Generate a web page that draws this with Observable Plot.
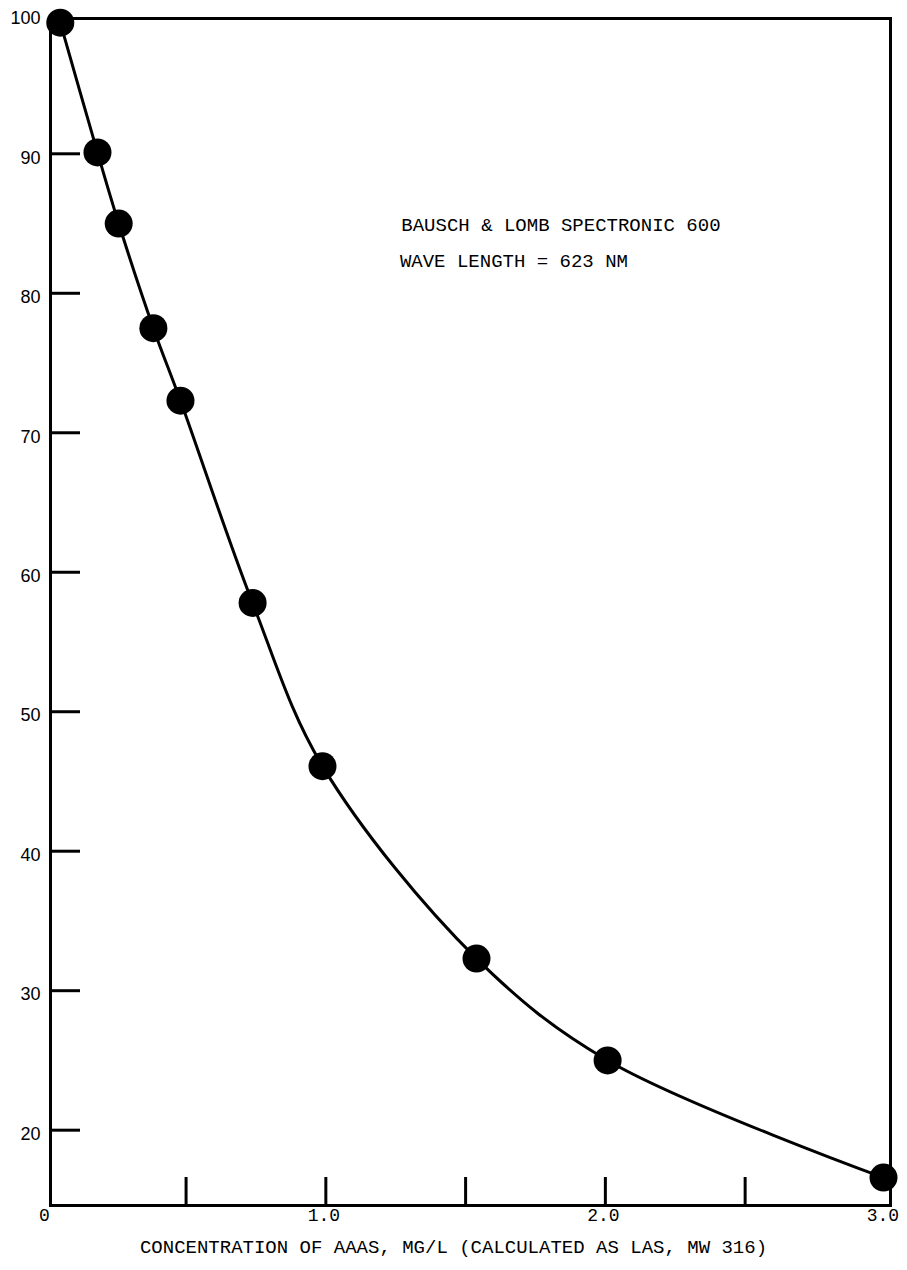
<!DOCTYPE html>
<html>
<head>
<meta charset="utf-8">
<script src="https://cdn.jsdelivr.net/npm/d3@7"></script>
<script src="https://cdn.jsdelivr.net/npm/@observablehq/plot@0.6"></script>
<style>
  html, body { margin: 0; padding: 0; background: #fff; }
</style>
</head>
<body>
<div id="chart"></div>
<script>
// Data
const concentration = [0.05, 0.183, 0.259, 0.383, 0.480, 0.738, 0.988, 1.539, 2.008, 2.995];
const transmittance = [99.4, 90.1, 85.0, 77.5, 72.3, 57.8, 46.1, 32.3, 25.0, 16.6];

const yTickMarks = [20, 30, 40, 50, 60, 70, 80, 90];
const yTickLabels = [20, 30, 40, 50, 60, 70, 80, 90, 100];
const xTickMarks = [0.5, 1.0, 1.5, 2.0, 2.5];
const xTickLabels = [0, 1, 2, 3];

const annText = ["BAUSCH \u0026 LOMB SPECTRONIC 600", "WAVE LENGTH = 623 NM"];
const annX = [1.27, 1.265];
const annY = [84.9, 82.3];

const xTitle = ["CONCENTRATION OF AAAS, MG/L (CALCULATED AS LAS, MW 316)"];

const pts = concentration.map((c, i) => ({c, t: transmittance[i]}));
const ann = annText.map((s, i) => ({s, x: annX[i], y: annY[i]}));

const mono = "Liberation Mono, DejaVu Sans Mono, monospace";
const sans = "Liberation Sans, Arial, sans-serif";

const W = 907, H = 1270;
const mL = 50, mR = 17, mT = 18, mB = 65;
const plotW = W - mL - mR, plotH = H - mT - mB;

const chart = Plot.plot({
  width: W,
  height: H,
  marginLeft: mL,
  marginRight: mR,
  marginTop: mT,
  marginBottom: mB,
  style: {background: "#fff", color: "#000"},
  x: {domain: [0.015, 3.02], axis: null},
  y: {domain: [14.6, 99.7], axis: null},
  marks: [
    Plot.frame({stroke: "#000", strokeWidth: 3}),
    Plot.tickY(yTickMarks, {y: d => d, stroke: "#000", strokeWidth: 3, insetRight: plotW - 30}),
    Plot.tickX(xTickMarks, {x: d => d, stroke: "#000", strokeWidth: 3, insetTop: plotH - 28}),
    Plot.axisY(yTickLabels, {anchor: "left", tickSize: 0, tickPadding: 10, label: null,
      fontSize: 18, fontFamily: sans, dy: 4, tickFormat: d => String(d)}),
    Plot.text(xTickLabels, {x: d => d, text: d => d === 0 ? "0" : d.toFixed(1),
      frameAnchor: "bottom", dy: 15, dx: -2, fontSize: 18, fontFamily: mono, fill: "#000"}),
    Plot.text(xTitle, {text: d => d, frameAnchor: "bottom", dy: 47, dx: -17,
      fontSize: 19, fontFamily: mono, fill: "#000"}),
    Plot.text(ann, {x: "x", y: "y", text: "s", textAnchor: "start",
      fontSize: 19, fontFamily: mono, fill: "#000"}),
    Plot.line(pts, {x: "c", y: "t", curve: "catmull-rom", stroke: "#000", strokeWidth: 3}),
    Plot.dot(pts, {x: "c", y: "t", r: 14, fill: "#000", stroke: "none"})
  ]
});

document.getElementById("chart").appendChild(chart);
</script>
</body>
</html>
